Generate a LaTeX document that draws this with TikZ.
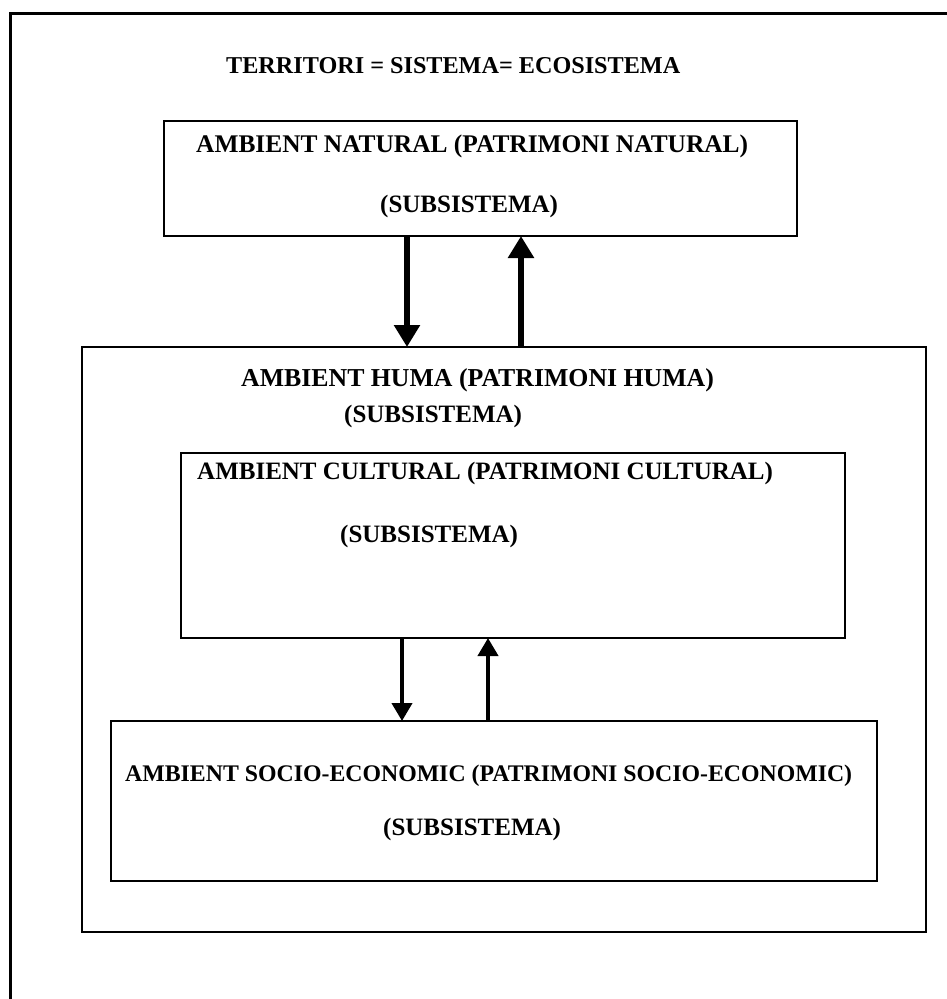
\documentclass[tikz,border=0pt]{standalone}
\usepackage{fontspec}
\setmainfont{Liberation Serif}
\usetikzlibrary{arrows.meta}
\begin{document}
\begin{tikzpicture}[x=1pt,y=-1pt,
  boxnode/.style={draw,line width=2.8pt,inner sep=0pt,outer sep=0pt,anchor=north west},
  lbl/.style={anchor=west,inner sep=0pt,font=\fontsize{25}{30}\selectfont\bfseries},
  bigarrow/.style={line width=6pt,-{Triangle[width=25pt,length=22pt]}},
  smallarrow/.style={line width=4pt,-{Triangle[width=20pt,length=18pt]}}]
\useasboundingbox (0,0) rectangle (947,999);
% outer frame
\draw[line width=3pt] (947,13) -- (10,13) -- (10,999);
% title
\node[lbl,font=\fontsize{24.2}{30}\selectfont\bfseries] (title) at (226,66) {TERRITORI = SISTEMA= ECOSISTEMA};
% boxes
\node[boxnode,minimum width=633pt,minimum height=115pt] (nat) at (164,121) {};
\node[boxnode,minimum width=844pt,minimum height=585pt] (hum) at (82,347) {};
\node[boxnode,minimum width=664pt,minimum height=185pt] (cul) at (181,453) {};
\node[boxnode,minimum width=766pt,minimum height=160pt] (soc) at (111,721) {};
% labels
\node[lbl,font=\fontsize{25.4}{30}\selectfont\bfseries] (natA) at (196,146) {AMBIENT NATURAL (PATRIMONI NATURAL)};
\node[lbl] (natB) at (380,206) {(SUBSISTEMA)};
\node[lbl,font=\fontsize{25.8}{30}\selectfont\bfseries] (humA) at (241,380) {AMBIENT HUMA (PATRIMONI HUMA)};
\node[lbl] (humB) at (344,416) {(SUBSISTEMA)};
\node[lbl] (culA) at (197,473) {AMBIENT CULTURAL (PATRIMONI CULTURAL)};
\node[lbl] (culB) at (340,536) {(SUBSISTEMA)};
\node[lbl,font=\fontsize{23.8}{30}\selectfont\bfseries] (socA) at (125,776) {AMBIENT SOCIO-ECONOMIC (PATRIMONI SOCIO-ECONOMIC)};
\node[lbl] (socB) at (383,829) {(SUBSISTEMA)};
% arrows
\draw[bigarrow] (nat.south -| 407,0) -- (hum.north -| 407,0);
\draw[bigarrow] (hum.north -| 521,0) -- (nat.south -| 521,0);
\draw[smallarrow] (cul.south -| 402,0) -- (soc.north -| 402,0);
\draw[smallarrow] (soc.north -| 488,0) -- (cul.south -| 488,0);
\end{tikzpicture}
\end{document}
